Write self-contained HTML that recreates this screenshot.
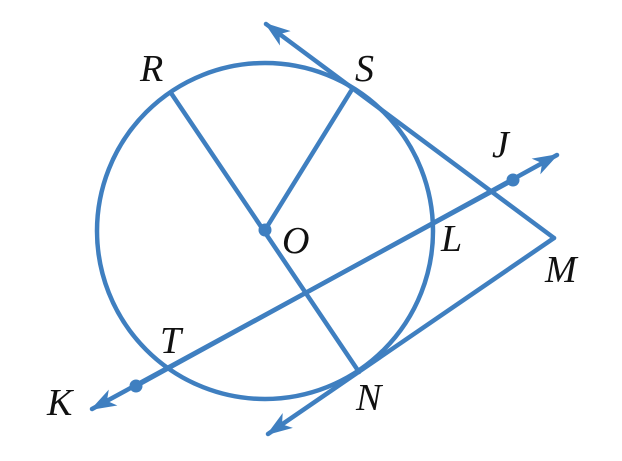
<!DOCTYPE html>
<html><head><meta charset="utf-8"><style>
html,body{margin:0;padding:0;background:#fff;width:622px;height:461px;overflow:hidden}
text{font-family:"Liberation Serif",serif;font-style:italic;font-size:38px;fill:#111}
</style></head><body>
<svg width="622" height="461" viewBox="0 0 622 461" xmlns="http://www.w3.org/2000/svg">
<defs>
<marker id="a" viewBox="0 0 26 18" refX="24" refY="9" markerWidth="26" markerHeight="18" markerUnits="userSpaceOnUse" orient="auto">
<path d="M0,0 L26,9 L0,18 L7,9 Z" fill="#3f7fc0"/>
</marker>
</defs>
<g stroke="#3f7fc0" stroke-width="4.5" fill="none" stroke-linecap="round">
<circle cx="265" cy="231" r="168"/>
<line x1="554" y1="238" x2="266" y2="24" marker-end="url(#a)"/>
<line x1="554" y1="238" x2="268" y2="434" marker-end="url(#a)"/>
<line x1="136" y1="386" x2="557" y2="155" marker-end="url(#a)"/>
<line x1="513" y1="180" x2="92" y2="409" marker-end="url(#a)"/>
<line x1="171" y1="93" x2="359" y2="372"/>
<line x1="265" y1="230" x2="351" y2="91"/>
</g>
<g fill="#3f7fc0">
<circle cx="265" cy="230" r="6.5"/>
<circle cx="513" cy="180" r="6.5"/>
<circle cx="136" cy="386" r="6.5"/>
</g>
<text x="140" y="81">R</text>
<text x="355" y="81">S</text>
<text x="492" y="157">J</text>
<text x="282" y="253">O</text>
<text x="441" y="251">L</text>
<text x="545" y="282">M</text>
<text x="160" y="353">T</text>
<text x="47" y="415">K</text>
<text x="356" y="410">N</text>
</svg>
</body></html>
